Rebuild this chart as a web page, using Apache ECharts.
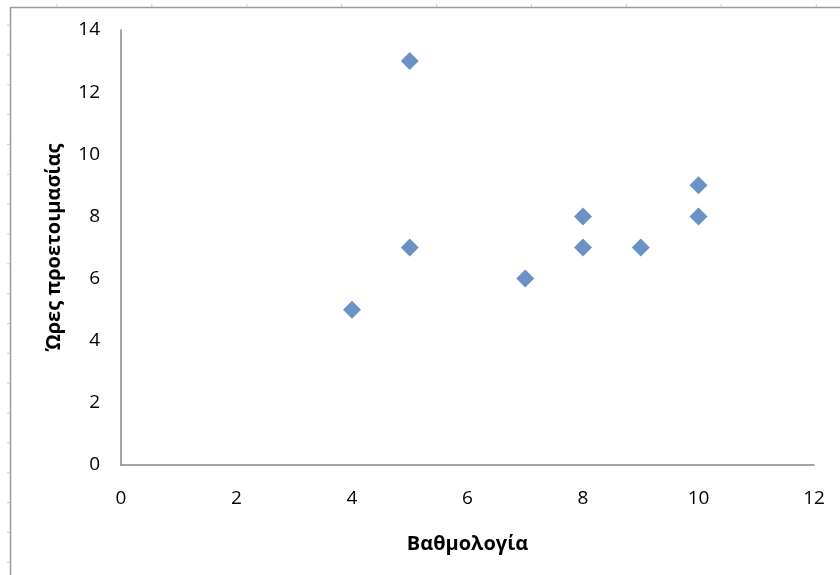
<!DOCTYPE html>
<html>
<head>
<meta charset="utf-8">
<script src="https://cdn.jsdelivr.net/npm/echarts@6/dist/echarts.min.js"></script>
<style>
  html, body { margin: 0; padding: 0; background: #fff; }
  #chart { width: 840px; height: 575px; }
</style>
</head>
<body>
<div id="chart"></div>
<script>
// Grade vs. hours of preparation
const grades = [4, 5, 5, 7, 8, 8, 9, 10, 10];
const hours  = [5, 7, 13, 6, 7, 8, 7, 8, 9];
const xTitle = 'Βαθμολογία';
const yTitle = 'Ώρες προετοιμασίας';

const points = grades.map((g, i) => [g, hours[i]]);

const FONT = '"Open Sans", "Noto Sans", sans-serif';
const AXIS_GRAY = '#868686';

// Faint sheet ruler marks around the chart frame
const rulerMarks = [];
for (let k = 0; k < 9; k++) {
  const x = 57 + k * 94.9;
  rulerMarks.push({ type: 'line', silent: true,
    shape: { x1: x, y1: 4, x2: x, y2: 7 },
    style: { stroke: '#c8c8dc', lineWidth: 1 } });
}
for (let k = 0; k < 19; k++) {
  const y = 25 + k * 29.85;
  rulerMarks.push({ type: 'line', silent: true,
    shape: { x1: 7, y1: y, x2: 10, y2: y },
    style: { stroke: '#c8c8dc', lineWidth: 1 } });
}

const chart = echarts.init(document.getElementById('chart'), null, { renderer: 'canvas' });
chart.setOption({
  animation: false,
  backgroundColor: '#ffffff',
  textStyle: { fontFamily: FONT },
  graphic: [
    { type: 'polyline', silent: true,
      shape: { points: [[10.5, 580], [10.5, 7.5], [845, 7.5]] },
      style: { stroke: '#9a9a9a', lineWidth: 1.5, fill: null } },
    ...rulerMarks
  ],
  grid: { left: 121, right: 26, top: 30, bottom: 110, containLabel: false },
  xAxis: {
    type: 'value', min: 0, max: 12, interval: 2,
    name: xTitle, nameLocation: 'middle', nameGap: 69,
    nameTextStyle: { fontFamily: FONT, fontSize: 20, fontWeight: 'bold', color: '#000' },
    axisLine: { show: true, onZero: false, lineStyle: { color: AXIS_GRAY, width: 1.5 } },
    axisTick: { show: false },
    splitLine: { show: false },
    axisLabel: { margin: 24, fontFamily: FONT, fontSize: 19, color: '#000' }
  },
  yAxis: {
    type: 'value', min: 0, max: 14, interval: 2,
    name: yTitle, nameLocation: 'middle', nameGap: 57, nameRotate: 90,
    nameTextStyle: { fontFamily: FONT, fontSize: 20, fontWeight: 'bold', color: '#000' },
    axisLine: { show: true, onZero: false, lineStyle: { color: AXIS_GRAY, width: 1.5 } },
    axisTick: { show: false },
    splitLine: { show: false },
    axisLabel: { margin: 21, fontFamily: FONT, fontSize: 19, color: '#000' }
  },
  series: [{
    type: 'scatter',
    data: points,
    symbol: 'diamond',
    symbolSize: [18, 18],
    itemStyle: { color: '#4677B8' }
  }]
});
</script>
</body>
</html>
